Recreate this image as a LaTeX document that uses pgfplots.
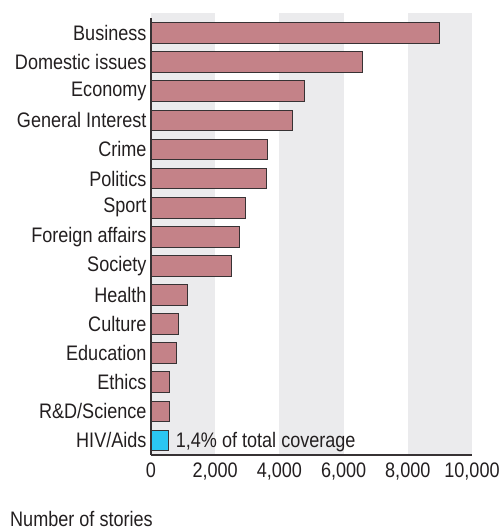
\documentclass[border=0pt]{standalone}
\usepackage{pgfplots}
\pgfplotsset{compat=1.18}
\usepackage{fontspec}
\setmainfont{Liberation Sans}[FakeStretch=0.86]
\definecolor{barred}{RGB}{196,130,136}
\definecolor{hivcyan}{RGB}{43,198,242}
\definecolor{bandgrey}{RGB}{235,235,237}
\definecolor{txt}{RGB}{35,31,32}
\definecolor{edge}{RGB}{55,50,52}
\begin{document}
\begin{tikzpicture}
\useasboundingbox (-151pt,-74pt) rectangle (351pt,455pt);
\begin{axis}[
  at={(0,0)}, anchor=south west,
  scale only axis,
  width=321pt, height=442pt,
  xmin=0, xmax=10000, ymin=-0.5, ymax=14.69,
  axis lines*=left,
  axis line style={draw=edge, line width=1.2pt, -},
  y axis line style={shorten >=5pt},
  axis on top,
  scaled x ticks=false,
  xtick={0,2000,4000,6000,8000,10000},
  xticklabels={0,{2,000},{4,000},{6,000},{8,000},{10,000}},
  ytick={0,...,14},
  yticklabels={HIV/Aids,R\&D/Science,Ethics,Education,Culture,Health,Society,Foreign affairs,Sport,Politics,Crime,General Interest,Economy,Domestic issues,Business},
  major tick length=0pt,
  tick label style={font=\fontsize{21}{23}\selectfont, text=txt},
  /pgf/number format/assume math mode=true,
  xticklabel style={yshift=-4pt},
  yticklabel style={xshift=-1pt},
  xbar, bar width=20.7pt, bar shift=0pt,
  clip=false,
]
\fill[bandgrey] (axis cs:0,-0.5) rectangle (axis cs:2000,14.69);
\fill[bandgrey] (axis cs:4000,-0.5) rectangle (axis cs:6000,14.69);
\fill[bandgrey] (axis cs:8000,-0.5) rectangle (axis cs:10000,14.69);
\addplot[fill=barred, draw=edge, line width=1pt, bar shift=0pt] coordinates {
 (570,1) (580,2) (800,3) (870,4) (1140,5) (2510,6) (2750,7) (2950,8)
 (3600,9) (3620,10) (4410,11) (4790,12) (6590,13) (8980,14)};
\addplot[fill=hivcyan, draw=edge, line width=1pt, bar shift=0pt] coordinates {(550,0)};
\node[anchor=base west, inner sep=0pt, text=txt, font=\fontsize{21}{23}\selectfont, xshift=7pt, yshift=-7.5pt] at (axis cs:550,0) {1,4\% of total coverage};
\end{axis}
\node[anchor=base west, inner sep=0pt, text=txt, font=\fontsize{21}{23}\selectfont] at (-141pt,-71pt) {Number of stories};
\end{tikzpicture}
\end{document}
